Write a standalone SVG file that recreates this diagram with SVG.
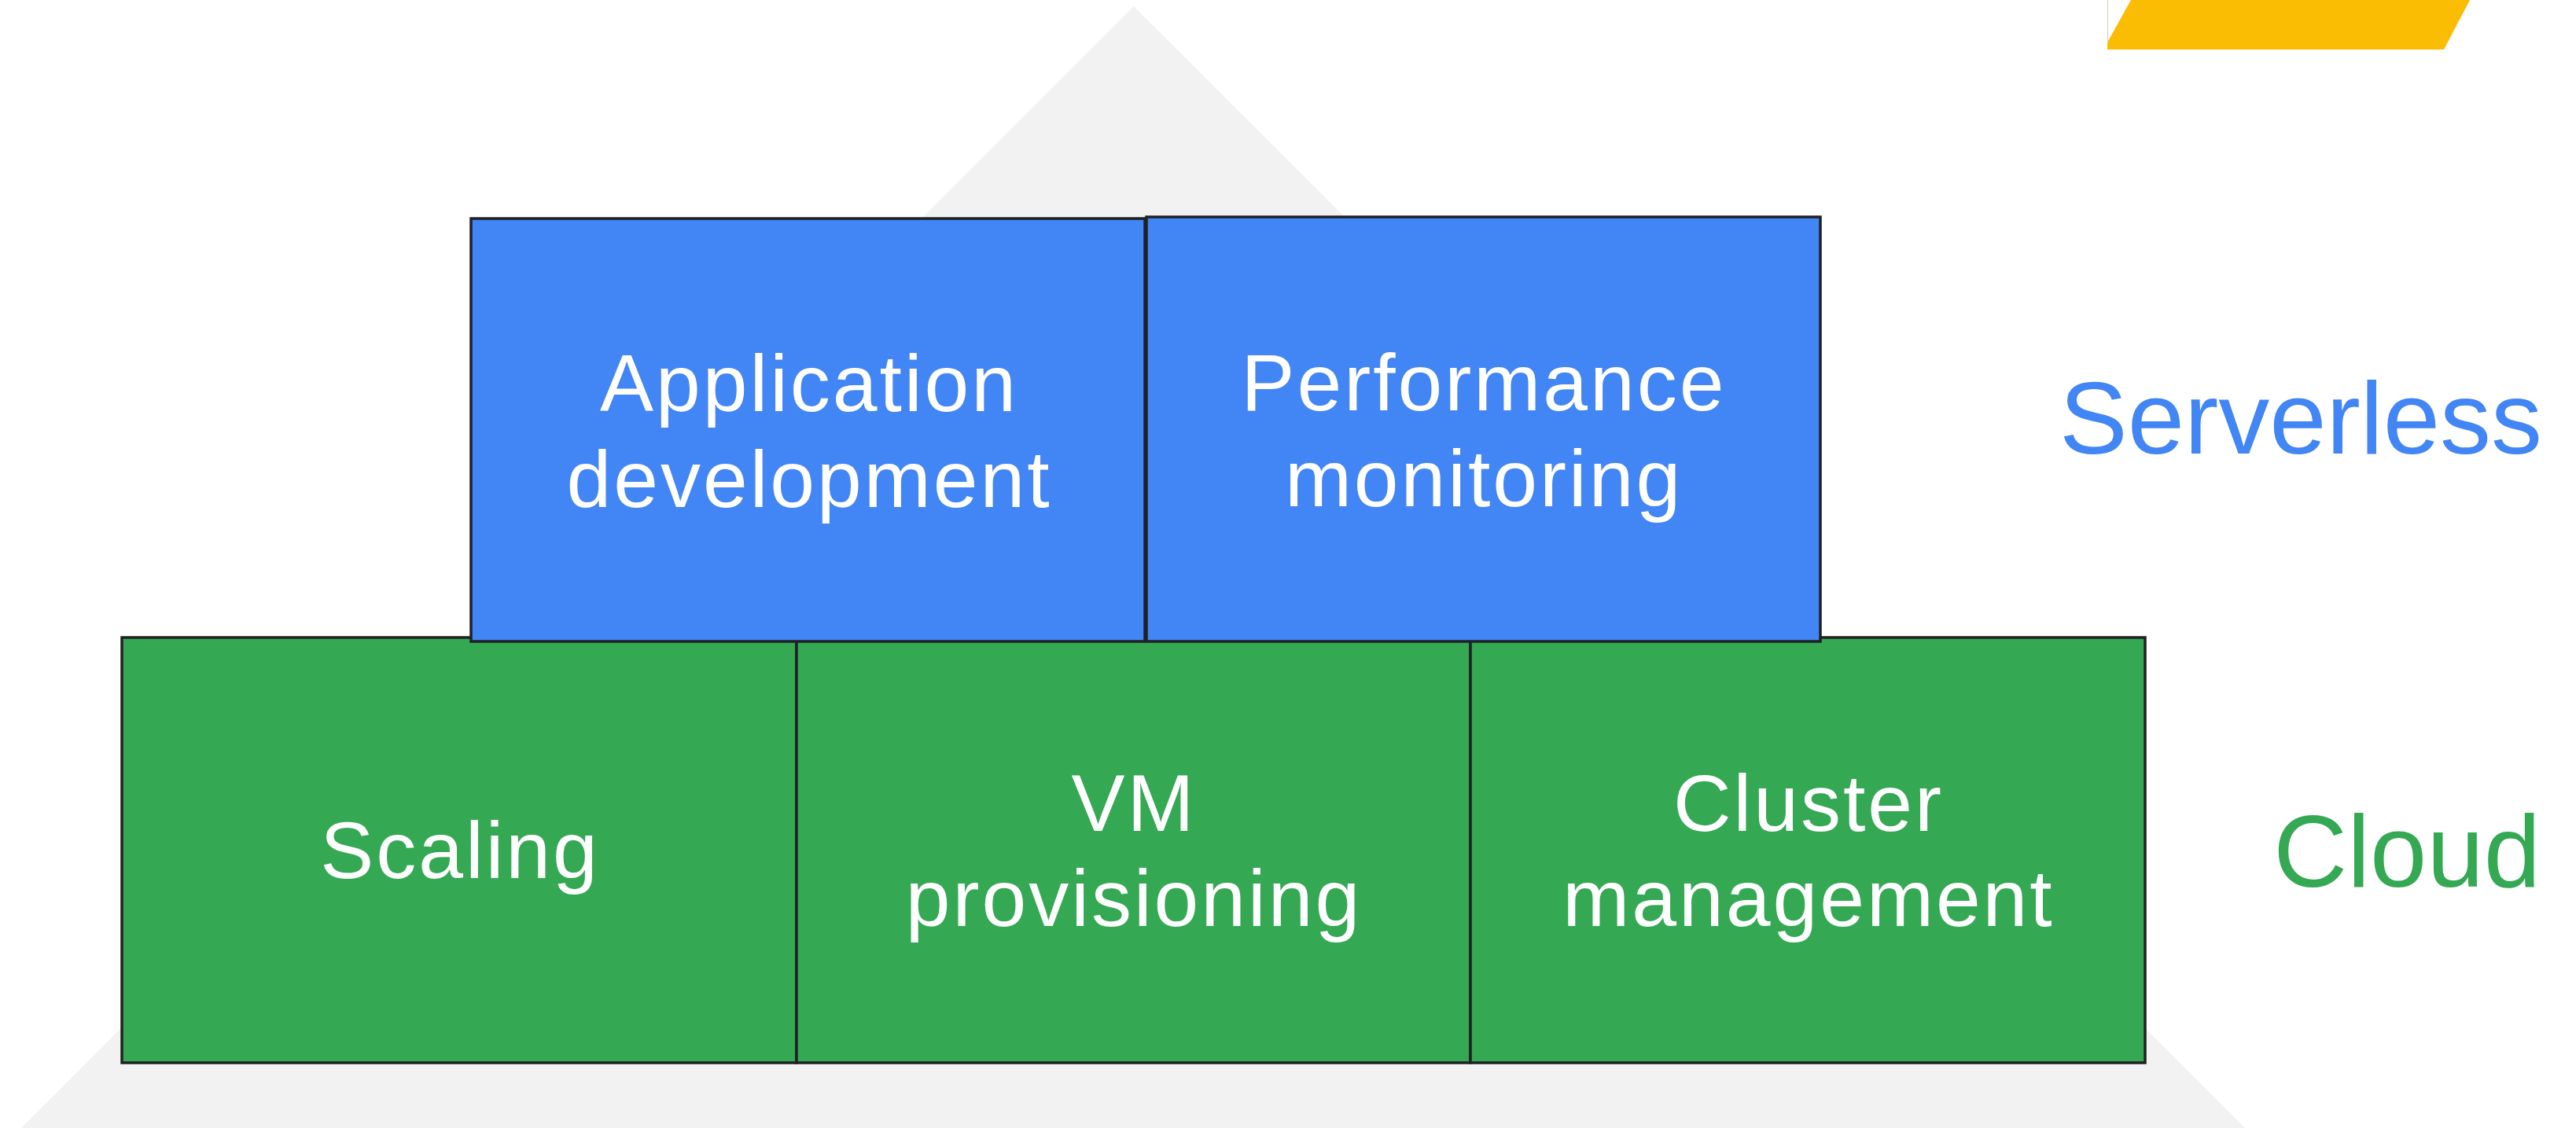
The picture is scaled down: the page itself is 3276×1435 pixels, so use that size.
<svg xmlns="http://www.w3.org/2000/svg" width="3276" height="1435" viewBox="0 0 3276 1435">
<style>
.box{stroke:#202124;stroke-width:3.5}
.blue{fill:#4285F4}
.green{fill:#34A853}
.lbl{font-family:"Liberation Sans",Arial,sans-serif;font-size:102px;letter-spacing:3px;fill:#FFFFFF;text-anchor:middle}
.side{font-family:"Liberation Sans",Arial,sans-serif;font-size:130px}
</style>
<rect width="3276" height="1435" fill="#FFFFFF"/>
<g id="background">
<polygon points="1442,8 2000,566 2300,880 2855,1435 27,1435 600,862 900,550" fill="#F2F2F2"/>
<polygon points="2710,0 3141,0 3108,63 2680,63 2680,54" fill="#FBBC04"/>
<line x1="2680.5" y1="0" x2="2680.5" y2="56" stroke="#D4CBBB" stroke-width="1"/>
</g>
<g id="connectors"></g>
<g id="scaling">
<rect class="box green" x="155" y="811" width="858" height="541"/>
<text class="lbl" x="585" y="1117">Scaling</text>
</g>
<g id="vm-provisioning">
<rect class="box green" x="1013" y="811" width="857" height="541"/>
<text class="lbl" x="1442" y="1057">VM</text>
<text class="lbl" x="1442" y="1178">provisioning</text>
</g>
<g id="cluster-management">
<rect class="box green" x="1870" y="811" width="858" height="541"/>
<text class="lbl" x="2300" y="1057">Cluster</text>
<text class="lbl" x="2300" y="1178">management</text>
</g>
<g id="application-development">
<rect class="box blue" x="599" y="278" width="857" height="538"/>
<text class="lbl" x="1029" y="523">Application</text>
<text class="lbl" x="1029" y="645">development</text>
</g>
<g id="performance-monitoring">
<rect class="box blue" x="1458" y="276" width="857" height="540"/>
<text class="lbl" x="1887" y="522">Performance</text>
<text class="lbl" x="1887" y="644">monitoring</text>
</g>
<g id="serverless-label">
<text class="side" x="3233" y="577" fill="#4285F4" text-anchor="end">Serverless</text>
</g>
<g id="cloud-label">
<text class="side" x="3231" y="1128" fill="#34A853" text-anchor="end">Cloud</text>
</g>
</svg>
